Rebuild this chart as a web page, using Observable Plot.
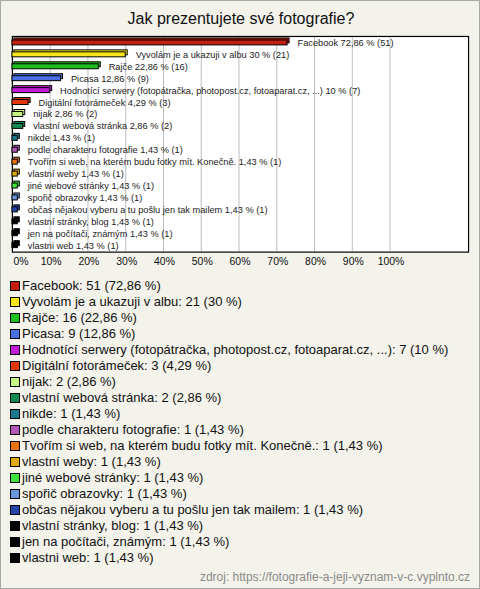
<!DOCTYPE html>
<html>
<head>
<meta charset="utf-8">
<script src="https://cdn.jsdelivr.net/npm/d3@7"></script>
<script src="https://cdn.jsdelivr.net/npm/@observablehq/plot@0.6"></script>
<style>
  html, body { margin: 0; padding: 0; background: #f3f2eb; }
  #box { position: relative; width: 480px; height: 589px; box-sizing: border-box; border: 1px solid #a8a8a8; background: #f3f2eb; font-family: "Liberation Sans", Arial, sans-serif; overflow: hidden; }
  #title { position: absolute; left: 0; top: 9px; width: 480px; text-align: center; font-size: 16px; color: #111; }
  #chart { position: absolute; left: -1px; top: 29px; }
  #legend { position: absolute; left: 9px; top: 277px; font-size: 13px; color: #111; }
  .row { height: 16px; line-height: 16px; white-space: nowrap; display: flex; align-items: center; }
  .sw { width: 8px; height: 8px; border: 1px solid #000; margin-right: 2px; flex: none; }
  #source { position: absolute; right: 9px; top: 569px; font-size: 12px; color: #8a8a8a; }
</style>
</head>
<body>
<div id="box">
  <div id="title"></div>
  <div id="chart"></div>
  <div id="legend"></div>
  <div id="source"></div>
</div>
<script>
const title = "Jak prezentujete své fotografie?";
const source = "zdroj: https://fotografie-a-jeji-vyznam-v-c.vyplnto.cz";
const categories = [
  "Facebook",
  "Vyvolám je a ukazuji v albu",
  "Rajče",
  "Picasa",
  "Hodnotící serwery (fotopátračka, photopost.cz, fotoaparat.cz, ...)",
  "Digitální fotorámeček",
  "nijak",
  "vlastní webová stránka",
  "nikde",
  "podle charakteru fotografie",
  "Tvořím si web, na kterém budu fotky mít. Konečně.",
  "vlastní weby",
  "jiné webové stránky",
  "spořič obrazovky",
  "občas nějakou vyberu a tu pošlu jen tak mailem",
  "vlastní stránky, blog",
  "jen na počítači, známým",
  "vlastni web"
];
const counts = [51, 21, 16, 9, 7, 3, 2, 2, 1, 1, 1, 1, 1, 1, 1, 1, 1, 1];
const percents = [72.86, 30, 22.86, 12.86, 10, 4.29, 2.86, 2.86, 1.43, 1.43, 1.43, 1.43, 1.43, 1.43, 1.43, 1.43, 1.43, 1.43];
const colors = ["#c41e0e", "#f7e51c", "#1cbf1c", "#4a6fe3", "#c21ad6", "#e0380c", "#c6f584", "#138a52", "#1b7b8c", "#b455b8", "#e8730f", "#e2a90a", "#3fe23f", "#6a95d8", "#2546a8", "#000000", "#000000", "#000000"];
const xTicks = [0, 10, 20, 30, 40, 50, 60, 70, 80, 90, 100];

const fmt = v => String(v).replace(".", ",");
const data = categories.map((c, i) => ({
  cat: c, count: counts[i], pct: percents[i], color: colors[i],
  label: `${c} ${fmt(percents[i])} % (${counts[i]})`
}));

document.getElementById("title").textContent = title;
document.getElementById("source").textContent = source;

const chart = Plot.plot({
  width: 482,
  height: 246,
  marginLeft: 12,
  marginRight: 11,
  marginTop: 6,
  marginBottom: 23,
  style: { fontFamily: "'Liberation Sans', Arial, sans-serif", background: "transparent", overflow: "visible" },
  x: { domain: [0, 100 * 459 / 380], label: null },
  y: { domain: categories, paddingInner: 0.58, paddingOuter: 0.29, axis: null },
  color: { type: "identity" },
  marks: [
    Plot.frame({ fill: "white", stroke: "none" }),
    Plot.gridX(xTicks, { stroke: "#bdbdbd", strokeOpacity: 1 }),
    Plot.frame({ stroke: "#000", strokeWidth: 1.2 }),
    Plot.barX(data, { x: "pct", y: "cat", fill: "color", stroke: "#000", strokeWidth: 1, dx: 2, dy: -2 }),
    Plot.barX(data, { x: "pct", y: "cat", fill: "color", stroke: "#000", strokeWidth: 1 }),
    Plot.text(data, { x: "pct", y: "cat", text: "label", textAnchor: "start", dx: 10, dy: 0, fontSize: 9.3, fill: "#222" }),
    Plot.axisX(xTicks.slice(1), { tickSize: 0, tickPadding: 6, fontSize: 10.5, tickFormat: d => d + "%", color: "#111", label: null, dx: 1 }),
    Plot.axisX(xTicks.slice(0, 1), { tickSize: 0, tickPadding: 6, fontSize: 10.5, tickFormat: d => d + "%", color: "#111", label: null, textAnchor: "start", dx: 1 })
  ]
});
document.getElementById("chart").appendChild(chart);

const legend = document.getElementById("legend");
data.forEach(d => {
  const row = document.createElement("div");
  row.className = "row";
  const sw = document.createElement("span");
  sw.className = "sw";
  sw.style.background = d.color;
  const t = document.createElement("span");
  t.textContent = `${d.cat}: ${d.count} (${fmt(d.pct)} %)`;
  row.appendChild(sw);
  row.appendChild(t);
  legend.appendChild(row);
});
</script>
</body>
</html>
